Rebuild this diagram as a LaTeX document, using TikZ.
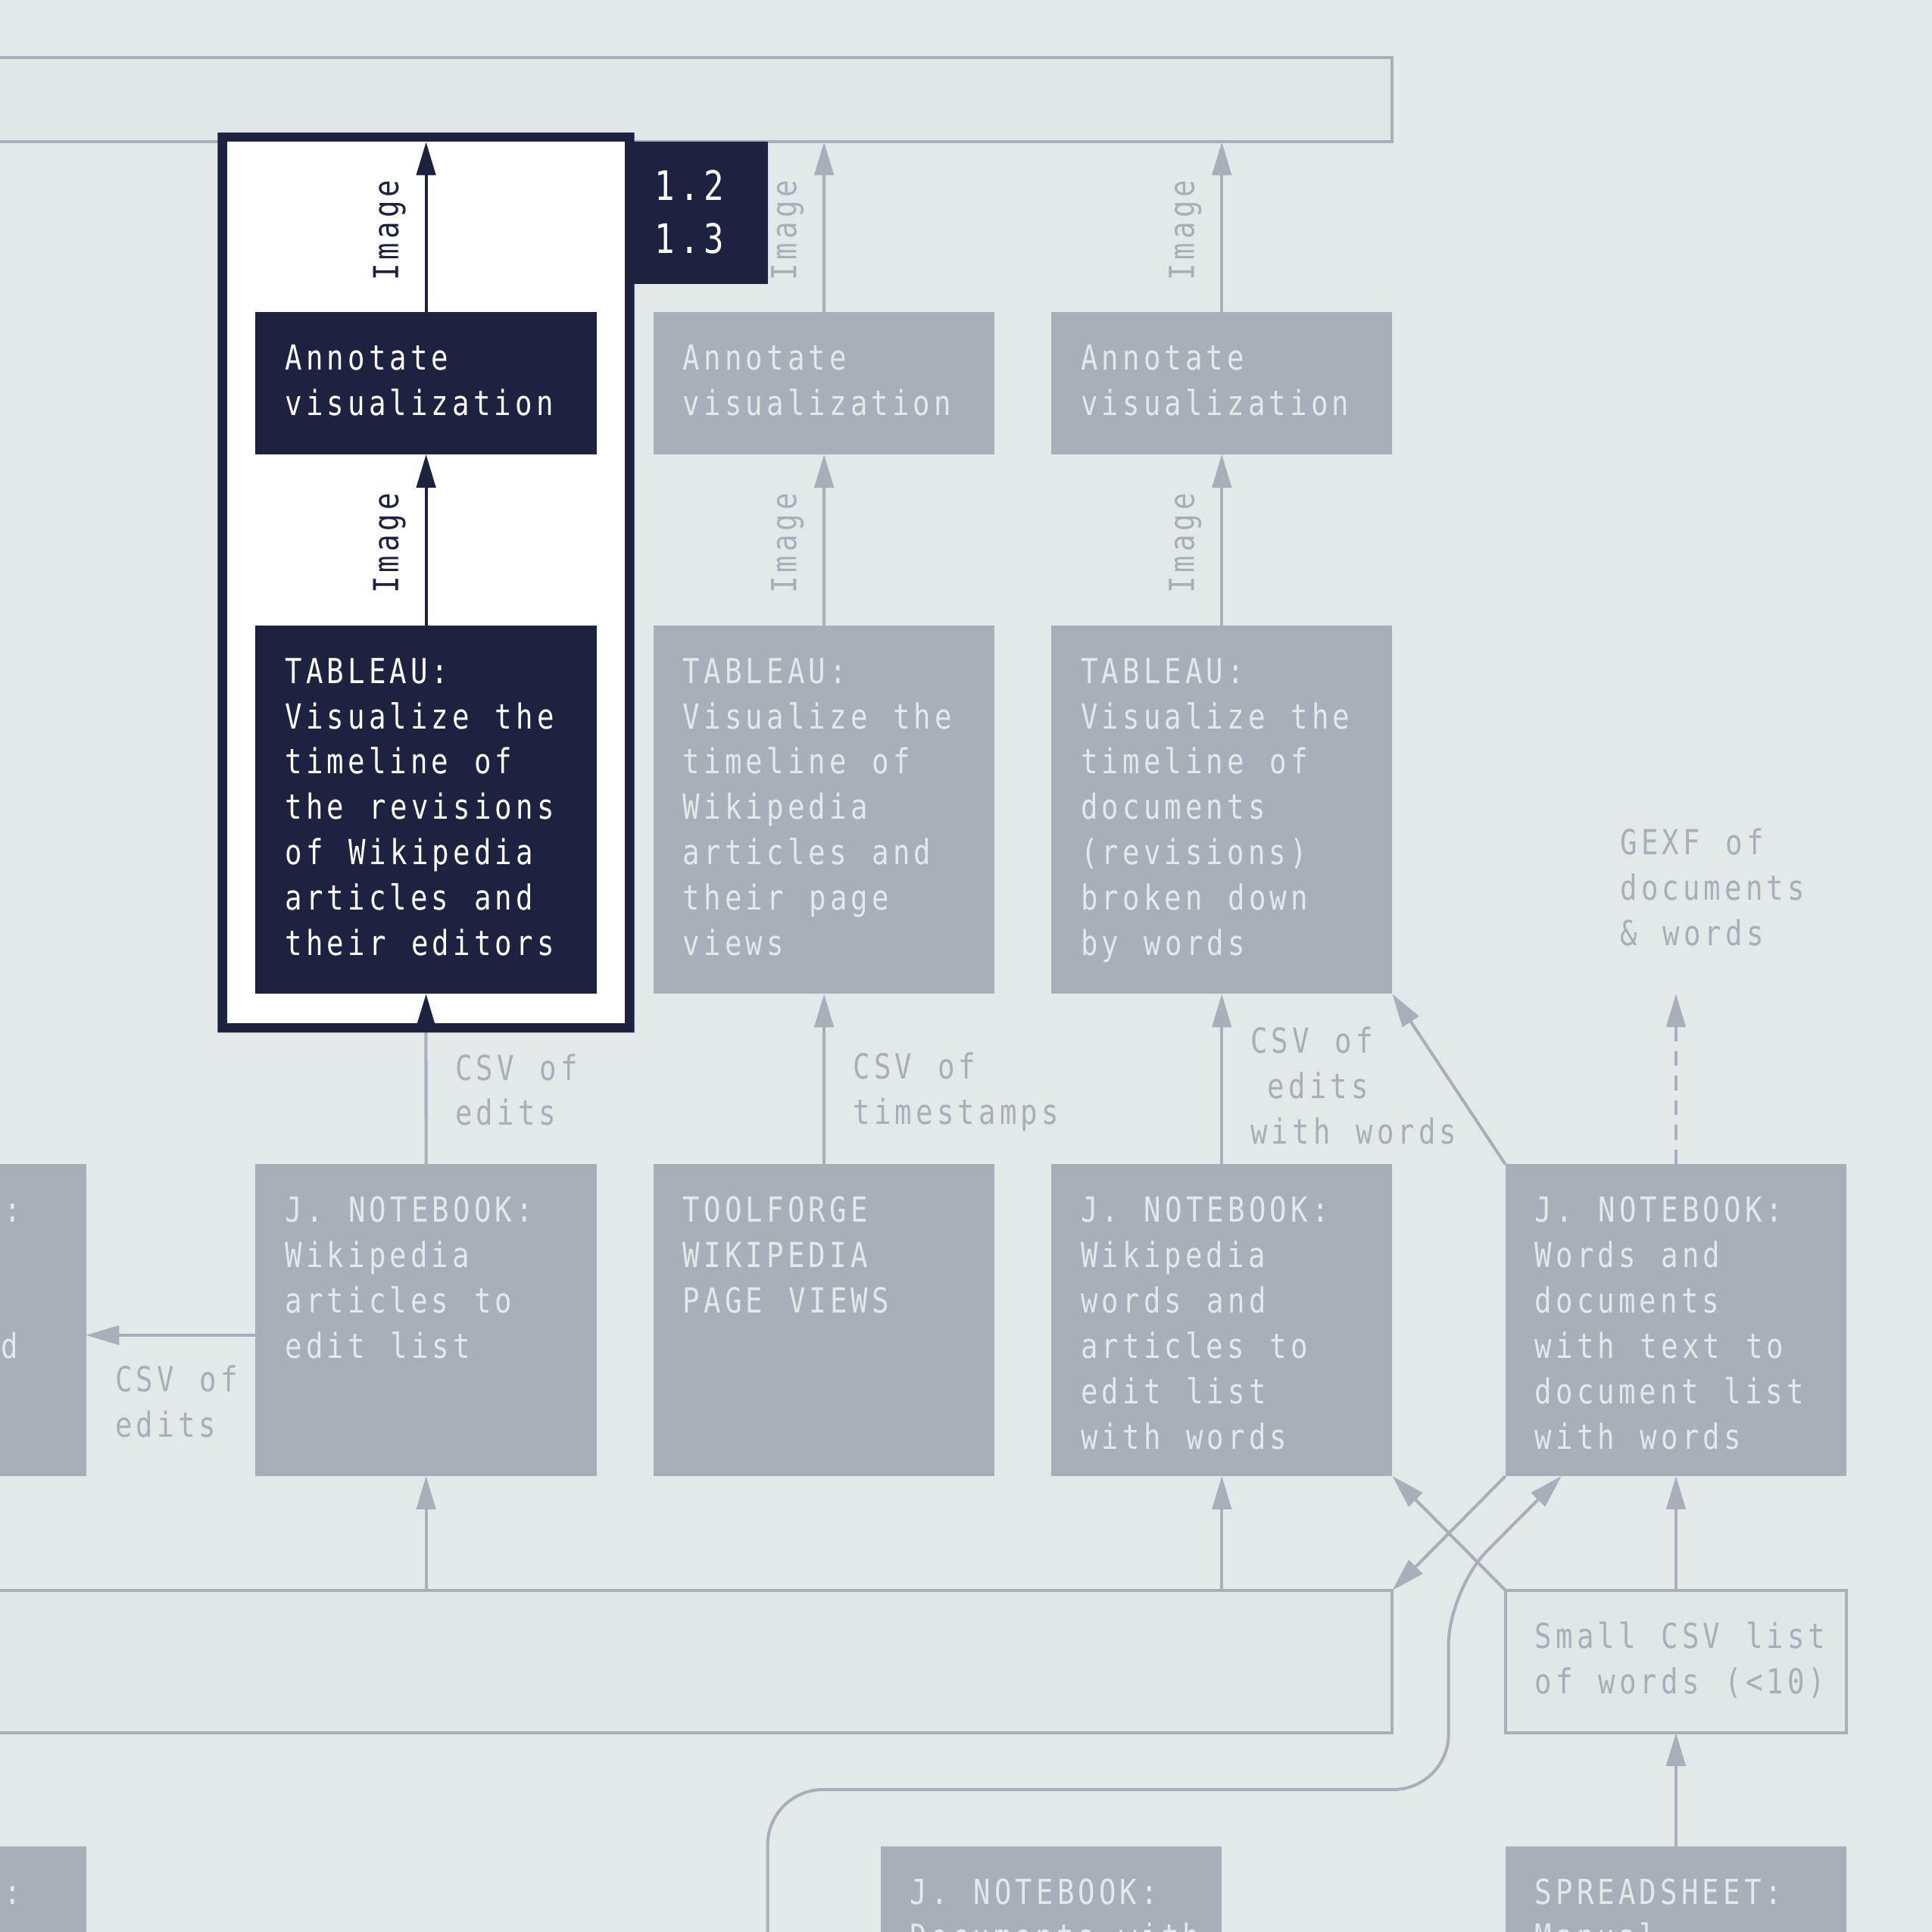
\documentclass[tikz,border=0pt]{standalone}
\usepackage{fontspec}
\usetikzlibrary{arrows.meta,calc,shapes.misc}
\newfontfamily\dm[FakeStretch=0.82,LetterSpace=11.3,WordSpace=1.22]{DejaVu Sans Mono}
\definecolor{bgc}{HTML}{E3E9E9}
\definecolor{barc}{HTML}{DFE7E7}
\definecolor{grayc}{HTML}{A8AFB9}
\definecolor{lightc}{HTML}{E3E9EA}
\definecolor{navyc}{HTML}{1C2240}
\newcommand\myStrut{\rule{0pt}{25pt}}
\begin{document}
\begin{tikzpicture}[x=1pt,y=-1pt,
  box/.style={rectangle, anchor=north west, inner sep=0pt, outer sep=0pt, minimum width=276.8, draw=none},
  graybox/.style={box, fill=grayc, minimum height=253},
  darkbox/.style={box, fill=navyc},
  outlinebox/.style={box, draw=grayc, fill=barc, line width=2.5pt},
  txt/.style={anchor=north west, inner sep=0pt, outer sep=0pt, align=left, font=\dm\fontsize{28}{36.8}\selectfont},
  intxt/.style={txt, text=lightc},
  labtxt/.style={txt, text=grayc},
  imglabel/.style={txt, rotate=90, anchor=base},
  tipA/.style={-{Triangle[length=27pt,width=15.5pt]}},
  edge/.style={draw=grayc, line width=2.5pt, tipA},
  navyedge/.style={draw=navyc, line width=2.5pt, tipA}]
\useasboundingbox (0,0) rectangle (1568,1568);
\clip (0,0) rectangle (1568,1568);
\fill[bgc] (0,0) rectangle (1568,1568);

% bars
\node[outlinebox, minimum width=1150, minimum height=68.6] (topbar) at (-20,46.6) {};
\node[outlinebox, minimum width=1150, minimum height=115.6] (bbar) at (-20,1290.7) {};

% highlight frame (navy outer plate with square white inside)
\node[chamfered rectangle, chamfered rectangle xsep=7.5pt, chamfered rectangle ysep=7.5pt,
      fill=navyc, draw=none, inner sep=0pt, outer sep=0pt,
      minimum width=338.2, minimum height=730.4] (frame) at (345.7,472.8) {};
\node[rectangle, fill=white, inner sep=0pt, outer sep=0pt,
      minimum width=323, minimum height=715.2] (framein) at (frame.center) {};
\node[darkbox, minimum width=113, minimum height=115.5] (tag) at (510,115) {};
\node[txt, text=white, font=\dm\fontsize{33}{42.9}\selectfont] (tagt) at (531.5,137.4) {\myStrut 1.2\\1.3};

% row: annotate
\node[darkbox, minimum height=115.3] (ann1) at (207.4,253.5) {};
\node[graybox, minimum height=115.3] (ann2) at (530.4,253.5) {};
\node[graybox, minimum height=115.3] (ann3) at (853.2,253.5) {};
\node[txt, text=white] (ann1t) at ($(ann1.north west)+(24,22)$) {\myStrut Annotate\\visualization};
\node[intxt] (ann2t) at ($(ann2.north west)+(24,22)$) {\myStrut Annotate\\visualization};
\node[intxt] (ann3t) at ($(ann3.north west)+(24,22)$) {\myStrut Annotate\\visualization};

% row: tableau
\node[darkbox, minimum height=299.2] (tab1) at (207.4,507.5) {};
\node[graybox, minimum height=299.2] (tab2) at (530.4,507.5) {};
\node[graybox, minimum height=299.2] (tab3) at (853.2,507.5) {};
\node[txt, text=white] (tab1t) at ($(tab1.north west)+(24,22)$) {\myStrut TABLEAU:\\Visualize the\\timeline of\\the revisions\\of Wikipedia\\articles and\\their editors};
\node[intxt] (tab2t) at ($(tab2.north west)+(24,22)$) {\myStrut TABLEAU:\\Visualize the\\timeline of\\Wikipedia\\articles and\\their page\\views};
\node[intxt] (tab3t) at ($(tab3.north west)+(24,22)$) {\myStrut TABLEAU:\\Visualize the\\timeline of\\documents\\(revisions)\\broken down\\by words};

% row: notebooks
\node[graybox] (nb0) at (-207,945) {};
\node[graybox] (nb1) at (207.4,945) {};
\node[graybox] (tf) at (530.4,945) {};
\node[graybox] (nb3) at (853.2,945) {};
\node[graybox] (nb4) at (1221.8,945) {};
\node[intxt] (nb0t) at (3.5,967) {\myStrut :};
\node[intxt] (nb0d) at (1,1077.4) {\myStrut d};
\node[intxt] (nb1t) at ($(nb1.north west)+(24,22)$) {\myStrut J. NOTEBOOK:\\Wikipedia\\articles to\\edit list};
\node[intxt] (tft) at ($(tf.north west)+(24,22)$) {\myStrut TOOLFORGE\\WIKIPEDIA\\PAGE VIEWS};
\node[intxt] (nb3t) at ($(nb3.north west)+(24,22)$) {\myStrut J. NOTEBOOK:\\Wikipedia\\words and\\articles to\\edit list\\with words};
\node[intxt] (nb4t) at ($(nb4.north west)+(24,22)$) {\myStrut J. NOTEBOOK:\\Words and\\documents\\with text to\\document list\\with words};

% small csv
\node[outlinebox, minimum height=115.6] (small) at (1221.8,1290.7) {};
\node[labtxt] (smallt) at ($(small.north west)+(24,22)$) {\myStrut Small CSV list\\of words (<10)};

% bottom row
\node[graybox] (nbl) at (-207,1498.3) {};
\node[graybox] (nbb) at (714.6,1498.3) {};
\node[graybox] (ss) at (1221.8,1498.3) {};
\node[intxt] (nblt) at (3.5,1520.3) {\myStrut :};
\node[intxt] (nbbt) at ($(nbb.north west)+(24,22)$) {\myStrut J. NOTEBOOK:\\Documents with};
\node[intxt] (sst) at ($(ss.north west)+(24,22)$) {\myStrut SPREADSHEET:\\Manual};

% edges column 1 (highlighted)
\draw[navyedge] (ann1.north) -- (ann1.north |- topbar.south);
\draw[navyedge] (tab1.north) -- (ann1.south);
\draw[draw=grayc, line width=2.5pt] (nb1.north) -- (frame.south);
\draw[navyedge] (frame.south) -- (tab1.south);
\draw[edge] (nb1.south |- bbar.north) -- (nb1.south);
\draw[edge] ($(nb1.north west)+(0,138.6)$) -- ($(nb0.north east)+(0,138.6)$);

% column 2
\draw[edge] (ann2.north) -- (ann2.north |- topbar.south);
\draw[edge] (tab2.north) -- (ann2.south);
\draw[edge] (tf.north) -- (tab2.south);

% column 3
\draw[edge] (ann3.north) -- (ann3.north |- topbar.south);
\draw[edge] (tab3.north) -- (ann3.south);
\draw[edge] (nb3.north) -- (tab3.south);
\draw[edge] (nb3.south |- bbar.north) -- (nb3.south);

% column 4
\coordinate (gexf) at (1360.2,806.5);
\draw[edge, dash pattern=on 12pt off 8pt] (nb4.north) -- (gexf);
\draw[edge] (nb4.north west) -- (tab3.south east);
\draw[edge] (nb4.south west) -- (bbar.north east);
\draw[edge] (small.north west) -- (nb3.south east);
\draw[edge] (small.north) -- (nb4.south);
\draw[edge] (ss.north) -- (small.south);
\coordinate (cstart) at (623,1620);
\draw[edge, rounded corners=45pt] (cstart) -- (623,1452.4) -- (1175.6,1452.4) -- (1175.6,1290) -- ($(nb4.south west)+(45.5,0)$);

% edge labels
\node[imglabel, text=navyc] (im1a) at (323.2,187) {Image};
\node[imglabel, text=navyc] (im1b) at (323.2,441) {Image};
\node[imglabel, text=grayc] (im2a) at (646.2,187) {Image};
\node[imglabel, text=grayc] (im2b) at (646.2,441) {Image};
\node[imglabel, text=grayc] (im3a) at (969,187) {Image};
\node[imglabel, text=grayc] (im3b) at (969,441) {Image};
\node[labtxt] (lab1) at (369.5,851.5) {\myStrut CSV of\\edits};
\node[labtxt] (lab2) at (692.5,850.8) {\myStrut CSV of\\timestamps};
\node[labtxt] (lab3) at (1015,829.8) {\myStrut CSV of\\\hphantom{e}edits\\with words};
\node[labtxt] (lab4) at (1315,668.7) {\myStrut GEXF of\\documents\\\&{} words};
\node[labtxt] (lab5) at (93.5,1104.3) {\myStrut CSV of\\edits};
\end{tikzpicture}
\end{document}
